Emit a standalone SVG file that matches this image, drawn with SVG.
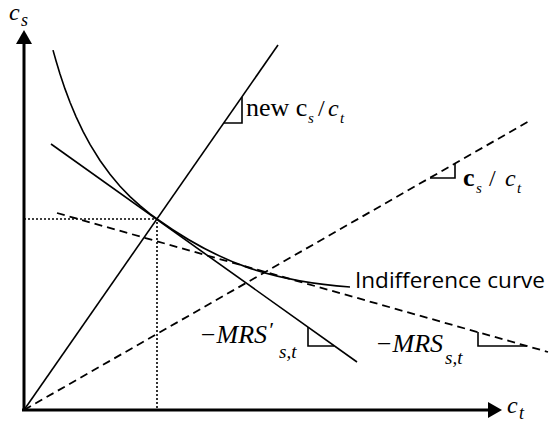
<svg xmlns="http://www.w3.org/2000/svg" width="551" height="424" viewBox="0 0 551 424">
<style>
.ln{fill:none;stroke:#000;stroke-width:1.6}
.dash{fill:none;stroke:#000;stroke-width:1.8;stroke-dasharray:8 5}
.dot{fill:none;stroke:#000;stroke-width:1.6;stroke-dasharray:2 2}
.ax{fill:none;stroke:#000;stroke-width:3}
.tri{fill:none;stroke:#000;stroke-width:1.6}
.m{font-family:"Liberation Serif","DejaVu Serif",serif;font-style:italic;fill:#000}
.tr{font-family:"Liberation Serif","Times New Roman",serif;fill:#000}
.sn{font-family:"Open Sans","Liberation Sans",sans-serif;fill:#000}
</style>
<rect width="551" height="424" fill="#fff"/>
<g id="axes">
<line class="ax" x1="24" y1="411" x2="24" y2="42"/>
<polygon points="16,44 24,30 32,44" fill="#000"/>
<line class="ax" x1="22" y1="410" x2="490" y2="410"/>
<polygon points="488,402 502,410 488,418" fill="#000"/>
<text class="m" x="9" y="20" font-size="24">c</text>
<text class="m" x="21" y="26" font-size="18">s</text>
<text class="m" x="507" y="413" font-size="24">c</text>
<text class="m" x="519" y="419" font-size="18">t</text>
</g>
<g id="connectors">
<path class="dot" d="M24,219 L157,219 L157,410"/>
<line class="ln" x1="24" y1="410" x2="278" y2="45"/>
<line class="ln" x1="51" y1="144" x2="357" y2="362"/>
<line class="dash" x1="24" y1="410" x2="531" y2="120"/>
<line class="dash" x1="57" y1="213" x2="548" y2="352"/>
</g>
<g id="indifference-curve">
<path class="ln" d="M53,50.1 L56,60.8 L60,74 L65,88.9 L70,102.3 L76,116.6 L83,131.4 L90,144.4 L100,160.5 L110,174.3 L120,186.2 L130,196.6 L140,205.7 L150,213.8 L157,219 C217,262 270,281 350,287"/>
<text class="sn" x="355" y="288" font-size="22" textLength="190" lengthAdjust="spacingAndGlyphs">Indifference curve</text>
</g>
<g id="new-ratio-label">
<polyline class="tri" points="224,123 242,123 242,97"/>
<text class="tr" x="246" y="116" font-size="26">new c</text>
<text class="m" x="308" y="123" font-size="15">s</text>
<text class="tr" x="318" y="116" font-size="24">/</text>
<text class="m" x="328" y="116" font-size="24">c</text>
<text class="m" x="340" y="123" font-size="15">t</text>
</g>
<g id="ratio-label">
<polyline class="tri" points="430,178 455,178 455,163.5"/>
<text class="tr" x="463" y="186" font-size="26" font-weight="bold">c</text>
<text class="m" x="476" y="193" font-size="15">s</text>
<text class="tr" x="489" y="186" font-size="24">/</text>
<text class="m" x="505" y="186" font-size="24">c</text>
<text class="m" x="517" y="193" font-size="15">t</text>
</g>
<g id="mrs-new-label">
<polyline class="tri" points="308,327 308,346 334,346"/>
<text class="m" x="199" y="343" font-size="25" textLength="68" lengthAdjust="spacingAndGlyphs">−MRS</text>
<text class="m" x="268" y="337" font-size="22">′</text>
<text class="m" x="279" y="358" font-size="19">s,t</text>
</g>
<g id="mrs-label">
<polyline class="tri" points="478,332 478,346 527,346"/>
<text class="m" x="375" y="352" font-size="25" textLength="68" lengthAdjust="spacingAndGlyphs">−MRS</text>
<text class="m" x="445" y="364" font-size="19">s,t</text>
</g>
</svg>
